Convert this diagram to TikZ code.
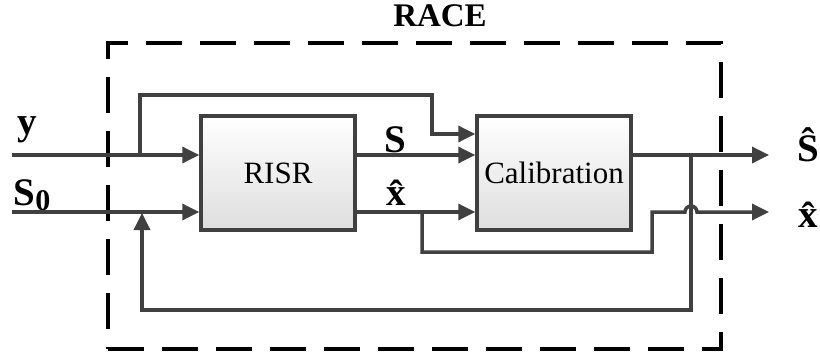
\documentclass[tikz,border=0pt]{standalone}
\usepackage{fontspec}
\setmainfont{Liberation Serif}
\usetikzlibrary{arrows.meta,calc}
\definecolor{wire_grey}{RGB}{64, 64, 64}
\definecolor{box_grey}{RGB}{222, 222, 222}
\tikzstyle{bx}=[rectangle,draw=wire_grey,line width=3.5pt,top color=white,
  bottom color=box_grey,minimum width=154pt,minimum height=114pt,
  font=\fontsize{31}{36}\selectfont]
\tikzstyle{frame}=[rectangle,draw=black,line width=3.5pt,
  dash pattern=on 36pt off 18pt,minimum width=613pt,minimum height=306pt]
\tikzstyle{lbl}=[inner sep=0pt,font=\fontsize{39}{44}\selectfont\bfseries]
\tikzstyle{arr}=[draw=wire_grey,line width=3.5pt,-{Triangle[length=17pt,width=16pt]}]
\tikzstyle{none}=[inner sep=0pt]

\begin{document}
\begin{tikzpicture}[x=1pt, y=-1pt]
    \useasboundingbox (0, 0) rectangle (820, 356);
            \node [style=frame] (race) at (414.5, 196) {};
            \node [style=bx] (risr) at (278, 173) {RISR};
            \node [style=bx] (cal) at (554, 173) {Calibration};
            \node [style=none] (yin) at (12, 155) {};
            \node [style=none] (s0in) at (12, 212) {};
            \node [style=none] (tap) at (140, 155) {};
            \node [style=none] (top) at (432, 95) {};
            \node [style=none] (dn) at (432, 134) {};
            \node [style=none] (sout) at (769, 155) {};
            \node [style=none] (xout) at (769, 212) {};
            \node [style=none] (fb) at (691, 155) {};
            \node [style=none] (fbr) at (691, 310) {};
            \node [style=none] (fbl) at (142, 310) {};
            \node [style=none] (fbt) at (142, 213) {};
            \node [style=none] (br) at (422, 212) {};
            \node [style=none] (lp) at (652, 252) {};
            \node [style=none] (up) at (652, 212) {};
            \node [style=none] (hop) at (685, 212) {};
            % labels
            \node [font=\fontsize{33}{38}\selectfont\bfseries] at (440, 16) {RACE};
            \node [style=lbl] at (27, 130) {y};
            \node [style=lbl] at (32, 195) {S\raisebox{-0.12em}{\fontsize{30}{34}\selectfont 0}};
            \node [style=lbl] at (395, 140) {S};
            \node [style=lbl] at (396, 193) {\^{x}};
            \node [style=lbl] at (808, 145) {\^{S}};
            \node [style=lbl] at (808, 215) {\^{x}};
            % wires
            \draw [style=arr] (yin.center) to (risr.west |- yin);
            \draw [style=arr] (s0in.center) to (risr.west |- s0in);
            \draw [style=arr] (tap.center) |- (top.center) -- (dn.center) -- (cal.west |- dn);
            \draw [style=arr] (risr.east |- yin) to (cal.west |- yin);
            \draw [style=arr] (risr.east |- s0in) to (cal.west |- s0in);
            \draw [style=arr] (cal.east |- yin) to (sout.center);
            \draw [style=arr] (fb.center) -- (fbr.center) -- (fbl.center) -- (fbt.center);
            \draw [style=arr] (br.center) |- (lp.center) -- (up.center) -- (hop.center)
                arc (180:360:6) -- (xout.center);
    \end{tikzpicture}
\end{document}
